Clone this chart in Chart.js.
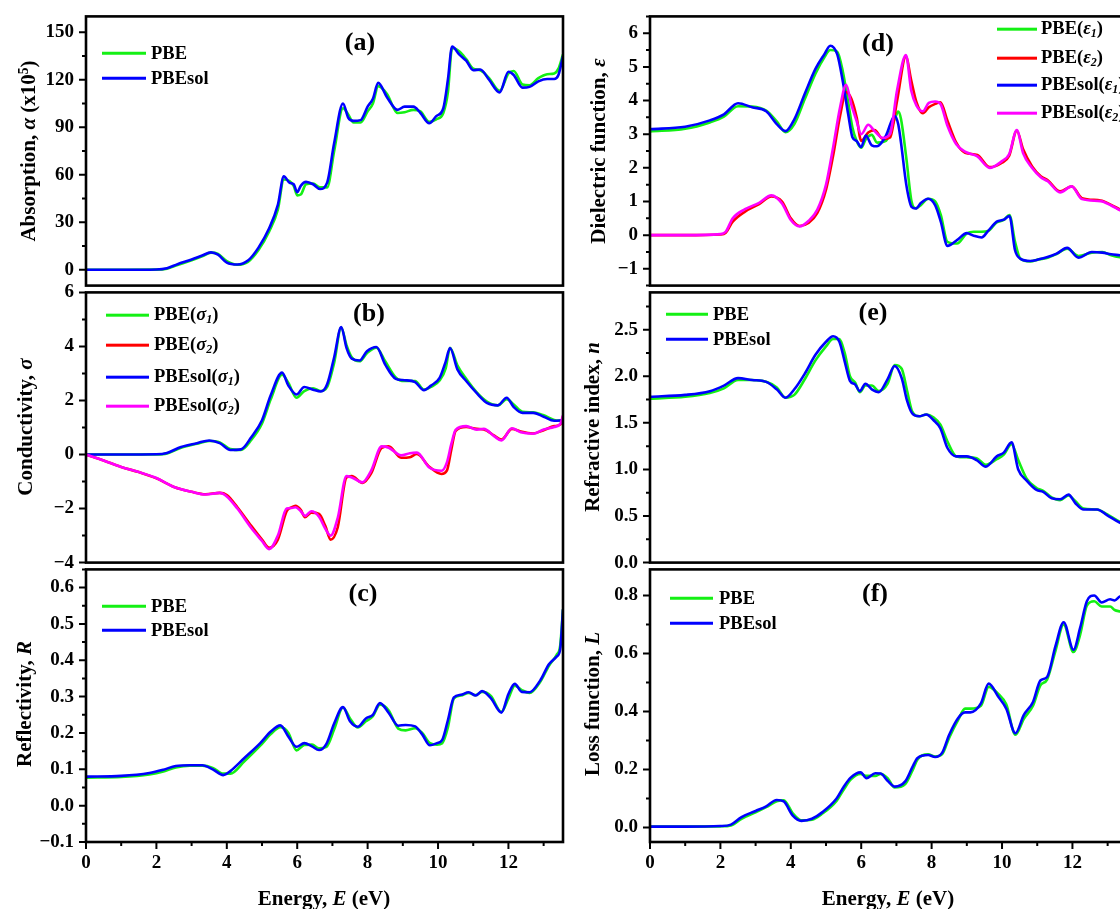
<!DOCTYPE html>
<html>
<head>
<meta charset="utf-8">
<title>Optical properties</title>
<script src="https://cdn.jsdelivr.net/npm/chart.js@4.4.1/dist/chart.umd.min.js"></script>
<style>
  html, body { margin: 0; padding: 0; width: 1120px; height: 909px; overflow: hidden; background: #fff; }
  body { position: relative; font-family: "Liberation Serif", "Times New Roman", serif; font-weight: bold; color: #000; }
  canvas { position: absolute; }
  .txt { position: absolute; white-space: nowrap; line-height: 1; transform: translate(-50%, -50%); }
  .ytitle { font-size: 21px; transform: translate(-50%, -50%) rotate(-90deg); }
  .xtitle { font-size: 21px; }
  .plab { font-size: 26px; }
  .leg { position: absolute; display: flex; align-items: center; white-space: nowrap; font-size: 18.5px; line-height: 1; transform: translateY(-50%); }
  .leg span.ln { display: inline-block; height: 3px; }
  sup { font-size: 0.65em; vertical-align: 0.55em; }
  sub { font-size: 0.65em; font-style: italic; vertical-align: -0.3em; }
</style>
</head>
<body>
<script>
// ---- energy axis (shared by both columns)
const energyTicks = [0, 2, 4, 6, 8, 10, 12];

// ---- (a) absorption
const absTicks = [0, 30, 60, 90, 120, 150];
const absE = [0, 1, 2, 2.3, 2.6, 3.0, 3.3, 3.55, 3.75, 4.0, 4.3, 4.6, 4.9, 5.2, 5.45, 5.62, 5.78, 5.9, 6.0, 6.1, 6.25, 6.45, 6.65, 6.85, 7.05, 7.3, 7.45, 7.6, 7.8, 8.0, 8.15, 8.3, 8.55, 8.85, 9.05, 9.3, 9.5, 9.75, 9.95, 10.15, 10.28, 10.4, 10.6, 10.8, 11.0, 11.2, 11.45, 11.75, 12.0, 12.15, 12.4, 12.6, 12.85, 13.1, 13.3, 13.42, 13.55];
const absPBE = [0, 0, 0.1, 0.7, 3, 6, 8.5, 10.8, 10, 5.5, 3.2, 5, 12.5, 24, 38, 57, 56, 53, 47, 47.5, 54, 54.5, 52, 52, 75, 102, 98, 93, 93, 100, 105, 116, 111, 99, 99.5, 101, 100, 93.5, 95, 99, 112, 140, 138, 133, 127, 126, 121, 113, 124, 125.5, 117, 116.5, 121, 123.5, 124, 127, 136];
const absPBEsol = [0, 0, 0.2, 1, 3.5, 6.5, 9, 11, 9.5, 4.5, 3.3, 5.8, 14, 26, 41, 59, 55, 54, 49, 53, 55.5, 54, 51, 55, 80, 105, 96, 94, 94.5, 103, 108, 118, 109, 101, 103, 103, 99, 92.5, 97, 102, 120, 141, 136, 132, 126, 126.5, 120, 112, 125, 123, 115, 115.5, 119, 120.5, 120.5, 123, 135];

// ---- (b) conductivity
const condTicks = [-4, -2, 0, 2, 4, 6];
const condE1 = [0, 1, 2, 2.3, 2.7, 3.15, 3.5, 3.8, 4.1, 4.4, 4.7, 5.0, 5.25, 5.57, 5.75, 5.98, 6.2, 6.45, 6.67, 6.85, 7.05, 7.25, 7.4, 7.55, 7.77, 7.98, 8.25, 8.5, 8.8, 9.05, 9.35, 9.6, 9.8, 10.05, 10.22, 10.34, 10.55, 10.8, 11.1, 11.4, 11.7, 11.95, 12.15, 12.4, 12.7, 13.0, 13.3, 13.55];
const sig1PBE = [0, 0, 0.005, 0.04, 0.25, 0.4, 0.5, 0.45, 0.2, 0.17, 0.55, 1.15, 2.05, 2.95, 2.65, 2.1, 2.35, 2.45, 2.35, 2.5, 3.4, 4.7, 4.05, 3.6, 3.45, 3.75, 3.95, 3.45, 2.85, 2.72, 2.72, 2.4, 2.5, 2.75, 3.2, 3.95, 3.3, 2.8, 2.3, 1.95, 1.82, 2.05, 1.85, 1.58, 1.56, 1.45, 1.28, 1.25];
const sig1PBEsol = [0, 0, 0.01, 0.06, 0.28, 0.42, 0.52, 0.42, 0.17, 0.19, 0.65, 1.27, 2.2, 3.03, 2.55, 2.22, 2.5, 2.4, 2.33, 2.6, 3.6, 4.72, 3.95, 3.55, 3.48, 3.82, 3.98, 3.33, 2.8, 2.75, 2.68, 2.38, 2.55, 2.85, 3.45, 3.94, 3.15, 2.72, 2.27, 1.9, 1.82, 2.1, 1.76, 1.54, 1.54, 1.4, 1.25, 1.27];
const condE2 = [0, 0.5, 1.0, 1.5, 2.0, 2.5, 3.0, 3.4, 3.8, 4.0, 4.3, 4.7, 5.0, 5.2, 5.45, 5.7, 5.85, 5.95, 6.1, 6.22, 6.4, 6.62, 6.8, 6.95, 7.15, 7.4, 7.55, 7.85, 8.1, 8.4, 8.6, 8.95, 9.2, 9.4, 9.75, 10.1, 10.25, 10.38, 10.5, 10.8, 11.1, 11.3, 11.6, 11.8, 12.1, 12.35, 12.7, 13.0, 13.3, 13.48, 13.55];
const sig2PBE = [0, -0.22, -0.46, -0.65, -0.88, -1.2, -1.38, -1.47, -1.42, -1.5, -1.95, -2.65, -3.15, -3.45, -3.15, -2.1, -1.95, -1.9, -2.05, -2.32, -2.15, -2.2, -2.65, -3.15, -2.7, -0.85, -0.8, -1.05, -0.7, 0.25, 0.3, -0.12, -0.1, 0.02, -0.45, -0.72, -0.6, 0.2, 0.88, 1.02, 0.95, 0.93, 0.7, 0.55, 0.95, 0.85, 0.78, 0.9, 1.05, 1.12, 1.4];
const sig2PBEsol = [0, -0.22, -0.46, -0.65, -0.87, -1.2, -1.38, -1.48, -1.42, -1.55, -2.0, -2.73, -3.2, -3.5, -3.0, -2.0, -1.98, -1.95, -2.1, -2.27, -2.1, -2.3, -2.75, -3.0, -2.35, -0.8, -0.85, -1.03, -0.6, 0.3, 0.25, -0.03, 0.05, 0.07, -0.48, -0.6, -0.3, 0.4, 0.91, 1.05, 0.92, 0.95, 0.67, 0.52, 0.97, 0.82, 0.77, 0.93, 1.02, 1.15, 1.45];

// ---- (c) reflectivity
const reflTicks = [-0.1, 0, 0.1, 0.2, 0.3, 0.4, 0.5, 0.6];
const reflE = [0, 1, 1.8, 2.2, 2.55, 2.95, 3.3, 3.6, 3.9, 4.1, 4.5, 4.95, 5.25, 5.52, 5.75, 5.98, 6.2, 6.42, 6.62, 6.83, 7.05, 7.3, 7.5, 7.72, 7.95, 8.15, 8.35, 8.6, 8.87, 9.08, 9.35, 9.55, 9.77, 9.97, 10.12, 10.28, 10.45, 10.65, 10.87, 11.07, 11.25, 11.5, 11.8, 12.0, 12.18, 12.38, 12.6, 12.9, 13.15, 13.37, 13.47, 13.55];
const reflPBE = [0.077, 0.079, 0.086, 0.094, 0.105, 0.11, 0.11, 0.104, 0.088, 0.088, 0.122, 0.165, 0.197, 0.216, 0.2, 0.152, 0.167, 0.168, 0.158, 0.162, 0.21, 0.27, 0.24, 0.215, 0.232, 0.246, 0.278, 0.262, 0.212, 0.207, 0.213, 0.2, 0.172, 0.168, 0.172, 0.215, 0.295, 0.303, 0.31, 0.304, 0.313, 0.302, 0.258, 0.295, 0.33, 0.318, 0.31, 0.34, 0.385, 0.415, 0.44, 0.54];
const reflPBEsol = [0.08, 0.082, 0.09, 0.099, 0.109, 0.111, 0.111, 0.1, 0.084, 0.095, 0.131, 0.172, 0.204, 0.221, 0.19, 0.162, 0.172, 0.163, 0.153, 0.17, 0.226, 0.271, 0.232, 0.217, 0.24, 0.25, 0.282, 0.255, 0.22, 0.222, 0.218, 0.196, 0.166, 0.172, 0.181, 0.235, 0.298, 0.305, 0.312, 0.303, 0.315, 0.296, 0.256, 0.307, 0.335, 0.313, 0.312, 0.344, 0.389, 0.41, 0.43, 0.54];

// ---- (d) dielectric function
const epsTicks = [-1, 0, 1, 2, 3, 4, 5, 6];
const epsE1 = [0, 1, 1.7, 2.1, 2.5, 2.9, 3.3, 3.6, 3.85, 4.1, 4.4, 4.7, 4.95, 5.12, 5.32, 5.48, 5.63, 5.75, 5.87, 6.0, 6.13, 6.3, 6.45, 6.7, 6.95, 7.05, 7.13, 7.28, 7.43, 7.55, 7.7, 7.9, 8.1, 8.26, 8.45, 8.72, 9.0, 9.2, 9.42, 9.6, 9.85, 10.05, 10.21, 10.37, 10.52, 10.8, 11.05, 11.27, 11.55, 11.85, 12.17, 12.55, 12.85, 13.1, 13.35, 13.55];
const eps1PBE = [3.08, 3.16, 3.35, 3.52, 3.83, 3.82, 3.7, 3.38, 3.06, 3.3, 4.05, 4.8, 5.28, 5.5, 5.45, 4.85, 3.95, 3.2, 2.8, 2.6, 2.85, 2.98, 2.75, 2.8, 3.45, 3.67, 3.45, 2.3, 1.0, 0.8, 0.9, 1.08, 1.0, 0.6, -0.2, -0.25, 0.05, 0.1, 0.1, 0.12, 0.38, 0.45, 0.6, -0.2, -0.7, -0.78, -0.72, -0.68, -0.56, -0.4, -0.62, -0.52, -0.5, -0.6, -0.66, -0.68];
const eps1PBEsol = [3.15, 3.22, 3.41, 3.59, 3.92, 3.8, 3.68, 3.3, 3.09, 3.44, 4.21, 4.94, 5.37, 5.63, 5.37, 4.55, 3.59, 2.91, 2.8, 2.62, 2.96, 2.67, 2.64, 2.95, 3.54, 3.3, 2.75, 1.5, 0.84, 0.79, 0.96, 1.08, 0.89, 0.4, -0.32, -0.15, 0.06, -0.02, -0.07, 0.12, 0.4, 0.46, 0.57, -0.45, -0.7, -0.77, -0.72, -0.66, -0.55, -0.38, -0.67, -0.5, -0.52, -0.57, -0.6, -0.63];
const epsE2 = [0, 1, 2, 2.15, 2.35, 2.7, 3.1, 3.45, 3.75, 4.0, 4.25, 4.5, 4.75, 5.0, 5.2, 5.4, 5.57, 5.72, 5.87, 6.0, 6.2, 6.38, 6.62, 6.82, 7.02, 7.27, 7.42, 7.57, 7.75, 7.92, 8.1, 8.25, 8.45, 8.7, 8.95, 9.3, 9.65, 10.0, 10.2, 10.42, 10.6, 10.85, 11.1, 11.3, 11.65, 11.98, 12.27, 12.8, 13.1, 13.37, 13.55];
const eps2PBE = [0, 0, 0.02, 0.07, 0.4, 0.7, 0.92, 1.15, 1.0, 0.5, 0.27, 0.36, 0.65, 1.35, 2.35, 3.55, 4.25, 4.05, 3.5, 2.8, 3.05, 3.12, 2.85, 2.9, 4.0, 5.3, 4.6, 3.95, 3.62, 3.8, 3.9, 3.95, 3.4, 2.75, 2.45, 2.38, 2.02, 2.15, 2.35, 3.1, 2.55, 2.05, 1.75, 1.63, 1.3, 1.45, 1.1, 1.03, 0.9, 0.75, 0.68];
const eps2PBEsol = [0, 0, 0.03, 0.1, 0.5, 0.77, 0.96, 1.18, 0.94, 0.45, 0.26, 0.42, 0.75, 1.5, 2.6, 3.8, 4.47, 3.88, 3.39, 3.0, 3.28, 3.09, 2.89, 3.01, 4.31, 5.35, 4.3, 3.85, 3.68, 3.93, 3.97, 3.9, 3.25, 2.7, 2.48, 2.34, 2.0, 2.2, 2.4, 3.12, 2.43, 2.0, 1.72, 1.6, 1.27, 1.45, 1.07, 1.01, 0.88, 0.73, 0.66];

// ---- (e) refractive index
const nTicks = [0, 0.5, 1.0, 1.5, 2.0, 2.5];
const nE = [0, 1, 1.7, 2.1, 2.5, 2.9, 3.3, 3.6, 3.85, 4.1, 4.4, 4.7, 5.0, 5.2, 5.38, 5.53, 5.68, 5.83, 5.96, 6.12, 6.3, 6.5, 6.75, 6.95, 7.15, 7.3, 7.45, 7.65, 7.85, 8.05, 8.25, 8.45, 8.7, 9.0, 9.28, 9.54, 9.85, 10.05, 10.27, 10.46, 10.7, 10.98, 11.17, 11.41, 11.65, 11.89, 12.08, 12.32, 12.7, 12.98, 13.34, 13.55];
const nPBE = [1.76, 1.78, 1.82, 1.87, 1.96, 1.96, 1.94, 1.88, 1.77, 1.8, 1.97, 2.17, 2.32, 2.4, 2.4, 2.25, 2.0, 1.93, 1.83, 1.9, 1.9, 1.84, 1.92, 2.12, 2.08, 1.85, 1.62, 1.57, 1.59, 1.56, 1.48, 1.3, 1.14, 1.13, 1.12, 1.05, 1.11, 1.16, 1.27, 1.1, 0.9, 0.8, 0.77, 0.7, 0.67, 0.72, 0.66, 0.58, 0.57, 0.52, 0.44, 0.41];
const nPBEsol = [1.78, 1.8, 1.84, 1.9, 1.98, 1.96, 1.94, 1.86, 1.77, 1.86, 2.03, 2.23, 2.37, 2.43, 2.37, 2.16, 1.95, 1.91, 1.84, 1.92, 1.86, 1.83, 1.97, 2.11, 1.98, 1.74, 1.6, 1.57, 1.59, 1.53, 1.44, 1.23, 1.14, 1.14, 1.1, 1.03, 1.14, 1.18, 1.29, 1.0, 0.88, 0.78, 0.76, 0.69, 0.68, 0.73, 0.64, 0.57, 0.57, 0.51, 0.43, 0.4];

// ---- (f) loss function
const lossTicks = [0, 0.2, 0.4, 0.6, 0.8];
const lossE = [0, 1, 2, 2.3, 2.6, 3.0, 3.3, 3.6, 3.8, 4.05, 4.3, 4.6, 4.9, 5.3, 5.5, 5.7, 5.98, 6.15, 6.4, 6.55, 6.75, 6.95, 7.25, 7.45, 7.6, 7.9, 8.1, 8.3, 8.5, 8.75, 8.95, 9.1, 9.4, 9.62, 9.9, 10.12, 10.38, 10.62, 10.88, 11.09, 11.28, 11.52, 11.75, 12.03, 12.22, 12.41, 12.62, 12.83, 13.07, 13.2, 13.35, 13.55];
const lossPBE = [0.003, 0.003, 0.004, 0.007, 0.03, 0.052, 0.07, 0.09, 0.094, 0.05, 0.025, 0.027, 0.048, 0.092, 0.13, 0.165, 0.185, 0.178, 0.178, 0.185, 0.17, 0.138, 0.15, 0.195, 0.235, 0.252, 0.245, 0.253, 0.31, 0.37, 0.41, 0.41, 0.42, 0.485, 0.46, 0.425, 0.32, 0.375, 0.42, 0.49, 0.51, 0.61, 0.7, 0.605, 0.665, 0.765, 0.78, 0.762, 0.762, 0.75, 0.745, 0.74];
const lossPBEsol = [0.003, 0.003, 0.005, 0.01, 0.036, 0.057, 0.073, 0.095, 0.09, 0.042, 0.023, 0.03, 0.053, 0.1, 0.14, 0.172, 0.19, 0.17, 0.187, 0.186, 0.161, 0.141, 0.159, 0.207, 0.24, 0.25, 0.243, 0.258, 0.32, 0.377, 0.397, 0.397, 0.428, 0.496, 0.45, 0.41, 0.325, 0.388, 0.433, 0.507, 0.519, 0.626, 0.708, 0.613, 0.689, 0.78, 0.8, 0.776, 0.787, 0.783, 0.797, 0.8];

const GREEN = '#14f014', BLUE = '#0000ff', RED = '#ff0000', MAGENTA = '#ff00ff';
const FONT = '"Liberation Serif", "Times New Roman", serif';
const X_MAX = 13.55;
const PAD_L = 86, PAD_T = 20, PAD_R = 20, PAD_B = 20, XAXIS_H = 45;

Chart.defaults.font.family = FONT;
Chart.defaults.font.weight = 'bold';
Chart.defaults.font.size = 19;
Chart.defaults.color = '#000';

function pts(E, V) { return E.map((x, i) => ({ x: x, y: V[i] })); }

function line(label, E, V, color, order) {
  return {
    label: label, data: pts(E, V), borderColor: color, backgroundColor: color,
    borderWidth: 2.6, pointRadius: 0, cubicInterpolationMode: 'monotone', fill: false, order: order
  };
}

function minors(min, max, step, majors) {
  const out = [];
  for (let k = Math.ceil(min / step - 1e-6); k <= Math.floor(max / step + 1e-6); k++) {
    const v = +(k * step).toFixed(6);
    if (!majors.some(m => Math.abs(m - v) < 1e-6)) out.push(v);
  }
  return out;
}

function fmt(v, dec) {
  const s = Math.abs(v) < 1e-9 ? (0).toFixed(dec) : v.toFixed(dec);
  return s.replace('-', '\u2212');
}

// frame + outward tick marks (major/minor), drawn over the chart
const frameTicks = {
  id: 'frameTicks',
  afterDraw(chart, args, o) {
    const { ctx, chartArea: a } = chart;
    ctx.save();
    ctx.strokeStyle = '#000';
    ctx.lineWidth = 2;
    ctx.beginPath();
    const ys = chart.scales.y;
    o.yMajor.forEach(v => { const y = ys.getPixelForValue(v); ctx.moveTo(a.left - 7, y); ctx.lineTo(a.left, y); });
    o.yMinor.forEach(v => { const y = ys.getPixelForValue(v); ctx.moveTo(a.left - 4, y); ctx.lineTo(a.left, y); });
    if (o.showX) {
      const xs = chart.scales.x;
      o.xMajor.forEach(v => { const x = xs.getPixelForValue(v); ctx.moveTo(x, a.bottom); ctx.lineTo(x, a.bottom + 7); });
      o.xMinor.forEach(v => { const x = xs.getPixelForValue(v); ctx.moveTo(x, a.bottom); ctx.lineTo(x, a.bottom + 4); });
    }
    ctx.stroke();
    ctx.lineWidth = 2.6;
    ctx.strokeRect(a.left, a.top, a.right - a.left, a.bottom - a.top);
    ctx.restore();
  }
};

function makePanel(p) {
  const showX = !!p.showX;
  const cv = document.createElement('canvas');
  cv.width = PAD_L + p.w + PAD_R;
  cv.height = PAD_T + p.h + (showX ? XAXIS_H : PAD_B);
  cv.style.left = (p.left - PAD_L) + 'px';
  cv.style.top = (p.top - PAD_T) + 'px';
  document.body.appendChild(cv);

  return new Chart(cv.getContext('2d'), {
    type: 'line',
    data: { datasets: p.datasets },
    options: {
      responsive: false,
      animation: false,
      devicePixelRatio: 1,
      layout: { padding: { left: 0, top: PAD_T, right: PAD_R, bottom: showX ? 0 : PAD_B } },
      plugins: {
        legend: { display: false },
        tooltip: { enabled: false },
        frameTicks: {
          yMajor: p.yTicks, yMinor: minors(p.yMin, p.yMax, p.yMinorStep, p.yTicks),
          xMajor: energyTicks, xMinor: minors(0, X_MAX, 1, energyTicks), showX: showX
        }
      },
      scales: {
        x: {
          type: 'linear', min: 0, max: X_MAX, display: showX,
          grid: { display: false, drawTicks: false }, border: { display: false },
          ticks: { padding: 10, maxRotation: 0, autoSkip: false, callback: v => String(v) },
          afterBuildTicks: s => { s.ticks = energyTicks.map(v => ({ value: v })); },
          afterFit: s => { s.height = showX ? XAXIS_H : 0; }
        },
        y: {
          type: 'linear', min: p.yMin, max: p.yMax,
          grid: { display: false, drawTicks: false }, border: { display: false },
          ticks: { padding: 12, autoSkip: false, callback: v => fmt(v, p.dec) },
          afterBuildTicks: s => { s.ticks = p.yTicks.map(v => ({ value: v })); },
          afterFit: s => { s.width = PAD_L; }
        }
      }
    },
    plugins: [frameTicks]
  });
}

function addText(html, x, y, cls) {
  const d = document.createElement('div');
  d.className = 'txt ' + cls;
  d.style.left = x + 'px';
  d.style.top = y + 'px';
  d.innerHTML = html;
  document.body.appendChild(d);
}

function addLegend(items, rows, x0, x1, tx) {
  items.forEach((it, i) => {
    const d = document.createElement('div');
    d.className = 'leg';
    d.style.left = x0 + 'px';
    d.style.top = rows[i] + 'px';
    d.innerHTML = '<span class="ln" style="width:' + (x1 - x0) + 'px;background:' + it.color +
      ';margin-right:' + (tx - x1) + 'px"></span><span>' + it.html + '</span>';
    document.body.appendChild(d);
  });
}

const COL_L = 86, COL_R = 650, PW = 477;
const ROWS = [{ top: 13, h: 276 }, { top: 289, h: 277 }, { top: 566, h: 276 }];

// left column
makePanel({ left: COL_L, top: ROWS[0].top, w: PW, h: ROWS[0].h, yMin: -10, yMax: 160, yTicks: absTicks, yMinorStep: 15, dec: 0,
  datasets: [line('PBE', absE, absPBE, GREEN, 1), line('PBEsol', absE, absPBEsol, BLUE, 0)] });
makePanel({ left: COL_L, top: ROWS[1].top, w: PW, h: ROWS[1].h, yMin: -4, yMax: 6, yTicks: condTicks, yMinorStep: 1, dec: 0,
  datasets: [line('PBE(σ1)', condE1, sig1PBE, GREEN, 3), line('PBE(σ2)', condE2, sig2PBE, RED, 2),
             line('PBEsol(σ1)', condE1, sig1PBEsol, BLUE, 1), line('PBEsol(σ2)', condE2, sig2PBEsol, MAGENTA, 0)] });
makePanel({ left: COL_L, top: ROWS[2].top, w: PW, h: ROWS[2].h, yMin: -0.1, yMax: 0.65, yTicks: reflTicks, yMinorStep: 0.05, dec: 1, showX: true,
  datasets: [line('PBE', reflE, reflPBE, GREEN, 1), line('PBEsol', reflE, reflPBEsol, BLUE, 0)] });

// right column
makePanel({ left: COL_R, top: ROWS[0].top, w: PW, h: ROWS[0].h, yMin: -1.5, yMax: 6.5, yTicks: epsTicks, yMinorStep: 0.5, dec: 0,
  datasets: [line('PBE(ε1)', epsE1, eps1PBE, GREEN, 3), line('PBE(ε2)', epsE2, eps2PBE, RED, 2),
             line('PBEsol(ε1)', epsE1, eps1PBEsol, BLUE, 1), line('PBEsol(ε2)', epsE2, eps2PBEsol, MAGENTA, 0)] });
makePanel({ left: COL_R, top: ROWS[1].top, w: PW, h: ROWS[1].h, yMin: 0, yMax: 2.9, yTicks: nTicks, yMinorStep: 0.25, dec: 1,
  datasets: [line('PBE', nE, nPBE, GREEN, 1), line('PBEsol', nE, nPBEsol, BLUE, 0)] });
makePanel({ left: COL_R, top: ROWS[2].top, w: PW, h: ROWS[2].h, yMin: -0.05, yMax: 0.89, yTicks: lossTicks, yMinorStep: 0.1, dec: 1, showX: true,
  datasets: [line('PBE', lossE, lossPBE, GREEN, 1), line('PBEsol', lossE, lossPBEsol, BLUE, 0)] });

// axis titles
addText('Absorption, <i>α</i> (x10<sup>5</sup>)', 28, 151, 'ytitle');
addText('Conductivity, <i>σ</i>', 25, 427, 'ytitle');
addText('Reflectivity, <i>R</i>', 24, 704, 'ytitle');
addText('Dielectric function, <i>ε</i>', 598, 151, 'ytitle');
addText('Refractive index, <i>n</i>', 592, 427, 'ytitle');
addText('Loss function, <i>L</i>', 592, 704, 'ytitle');
addText('Energy, <i>E</i> (eV)', 324, 898, 'xtitle');
addText('Energy, <i>E</i> (eV)', 888, 898, 'xtitle');

// panel letters
addText('(a)', 360, 42, 'plab');
addText('(b)', 369, 313, 'plab');
addText('(c)', 363, 593, 'plab');
addText('(d)', 878, 43, 'plab');
addText('(e)', 873, 312, 'plab');
addText('(f)', 875, 593, 'plab');

// legends
const two = [{ html: 'PBE', color: GREEN }, { html: 'PBEsol', color: BLUE }];
addLegend(two, [53, 78], 102, 146, 151);
addLegend([
  { html: 'PBE(<i>σ</i><sub>1</sub>)', color: GREEN },
  { html: 'PBE(<i>σ</i><sub>2</sub>)', color: RED },
  { html: 'PBEsol(<i>σ</i><sub>1</sub>)', color: BLUE },
  { html: 'PBEsol(<i>σ</i><sub>2</sub>)', color: MAGENTA }
], [315, 345, 377, 406], 106, 149, 154);
addLegend(two, [606, 630], 102, 146, 151);
addLegend([
  { html: 'PBE(<i>ε</i><sub>1</sub>)', color: GREEN },
  { html: 'PBE(<i>ε</i><sub>2</sub>)', color: RED },
  { html: 'PBEsol(<i>ε</i><sub>1</sub>)', color: BLUE },
  { html: 'PBEsol(<i>ε</i><sub>2</sub>)', color: MAGENTA }
], [29, 58, 85, 113], 997, 1037, 1041);
addLegend(two, [314, 339], 666, 708, 713);
addLegend(two, [598, 623], 670, 713, 719);
</script>
</body>
</html>
